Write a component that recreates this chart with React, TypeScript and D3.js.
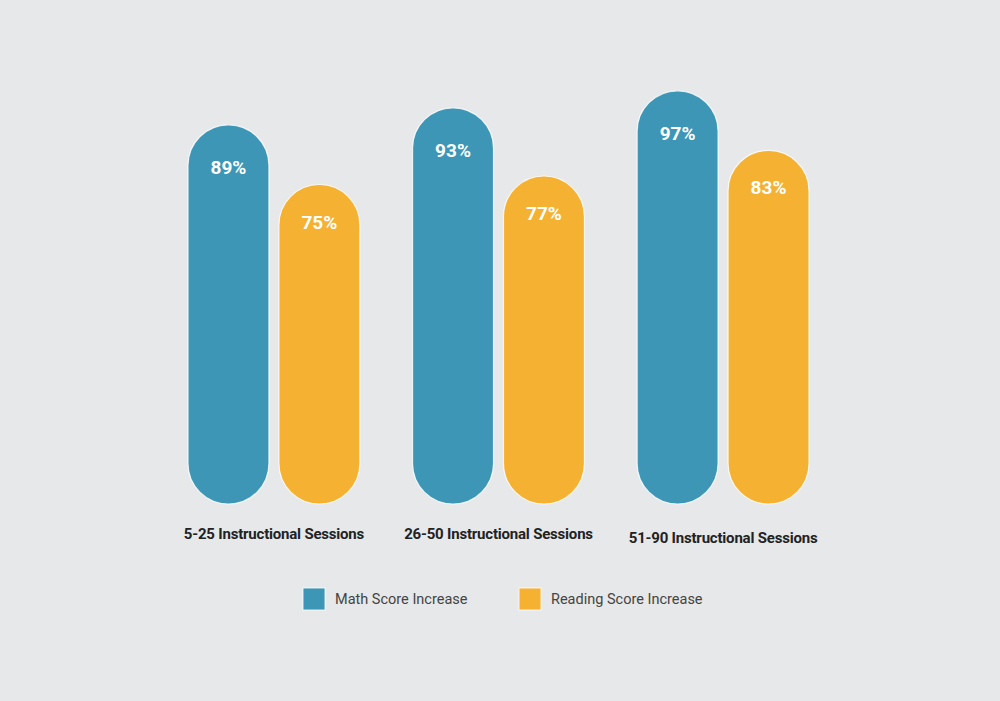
import React from "react";
import * as d3 from "d3";

const categories = ["5-25 Instructional Sessions", "26-50 Instructional Sessions", "51-90 Instructional Sessions"];
const seriesNames = ["Math Score Increase", "Reading Score Increase"];
const mathValues = [89, 93, 97];
const readingValues = [75, 77, 83];
const seriesColors = ["#3d96b5", "#f5b132"];

const W = 1000;
const H = 701;

export default function App() {
  React.useEffect(() => {
    document.body.style.margin = "0";
  }, []);

  const x0 = d3.scaleBand<string>().domain(categories).range([188, 809]).paddingInner(0.2347).paddingOuter(0);
  const x1 = d3.scaleBand<string>().domain(seriesNames).range([0, x0.bandwidth()]).paddingInner(0.11).paddingOuter(0);
  const y = d3.scaleLinear().domain([0, 100]).range([504, 78]);
  const color = d3.scaleOrdinal<string, string>().domain(seriesNames).range(seriesColors);

  const valuesBySeries = [mathValues, readingValues];
  const bw = x1.bandwidth();

  return (
    <svg width={W} height={H} style={{ display: "block", background: "#e6e8ea" }}>
      <rect x={0} y={0} width={W} height={H} fill="#e6e8ea" />
      {categories.map((cat, ci) => (
        <g key={cat} transform={`translate(${x0(cat)},0)`}>
          {seriesNames.map((s, si) => {
            const v = valuesBySeries[si][ci];
            const bx = x1(s)!;
            const top = y(v);
            const h = y(0) - top;
            return (
              <g key={s}>
                <rect
                  x={bx}
                  y={top}
                  width={bw}
                  height={h}
                  rx={bw / 2}
                  ry={bw / 2}
                  fill={color(s)}
                  stroke="#ffffff"
                  strokeOpacity={0.8}
                  strokeWidth={1.2}
                />
                <text
                  x={bx + bw / 2}
                  y={top + (si === 0 ? 49 : 44)}
                  textAnchor="middle"
                  fill="#ffffff"
                  fontFamily="Roboto, 'Open Sans', sans-serif"
                  fontWeight={700}
                  fontSize={19}
                >
                  {v}%
                </text>
              </g>
            );
          })}
          <text
            x={x0.bandwidth() / 2}
            y={538.5 + (ci === 2 ? 4 : 0)}
            textAnchor="middle"
            fill="#222222"
            fontFamily="Roboto, 'Open Sans', sans-serif"
            fontWeight={700}
            fontSize={15}
            letterSpacing={-0.2}
          >
            {cat}
          </text>
        </g>
      ))}
      <g>
        {seriesNames.map((s, i) => {
          const lx = i === 0 ? 303 : 519;
          return (
            <g key={s} transform={`translate(${lx},588)`}>
              <rect x={0} y={0} width={22} height={22} fill={color(s)} stroke="#ffffff" strokeOpacity={0.8} strokeWidth={1} />
              <text
                x={32}
                y={16}
                fill="#444444"
                fontFamily="Roboto, 'Open Sans', sans-serif"
                fontSize={14.5}
              >
                {s}
              </text>
            </g>
          );
        })}
      </g>
    </svg>
  );
}
